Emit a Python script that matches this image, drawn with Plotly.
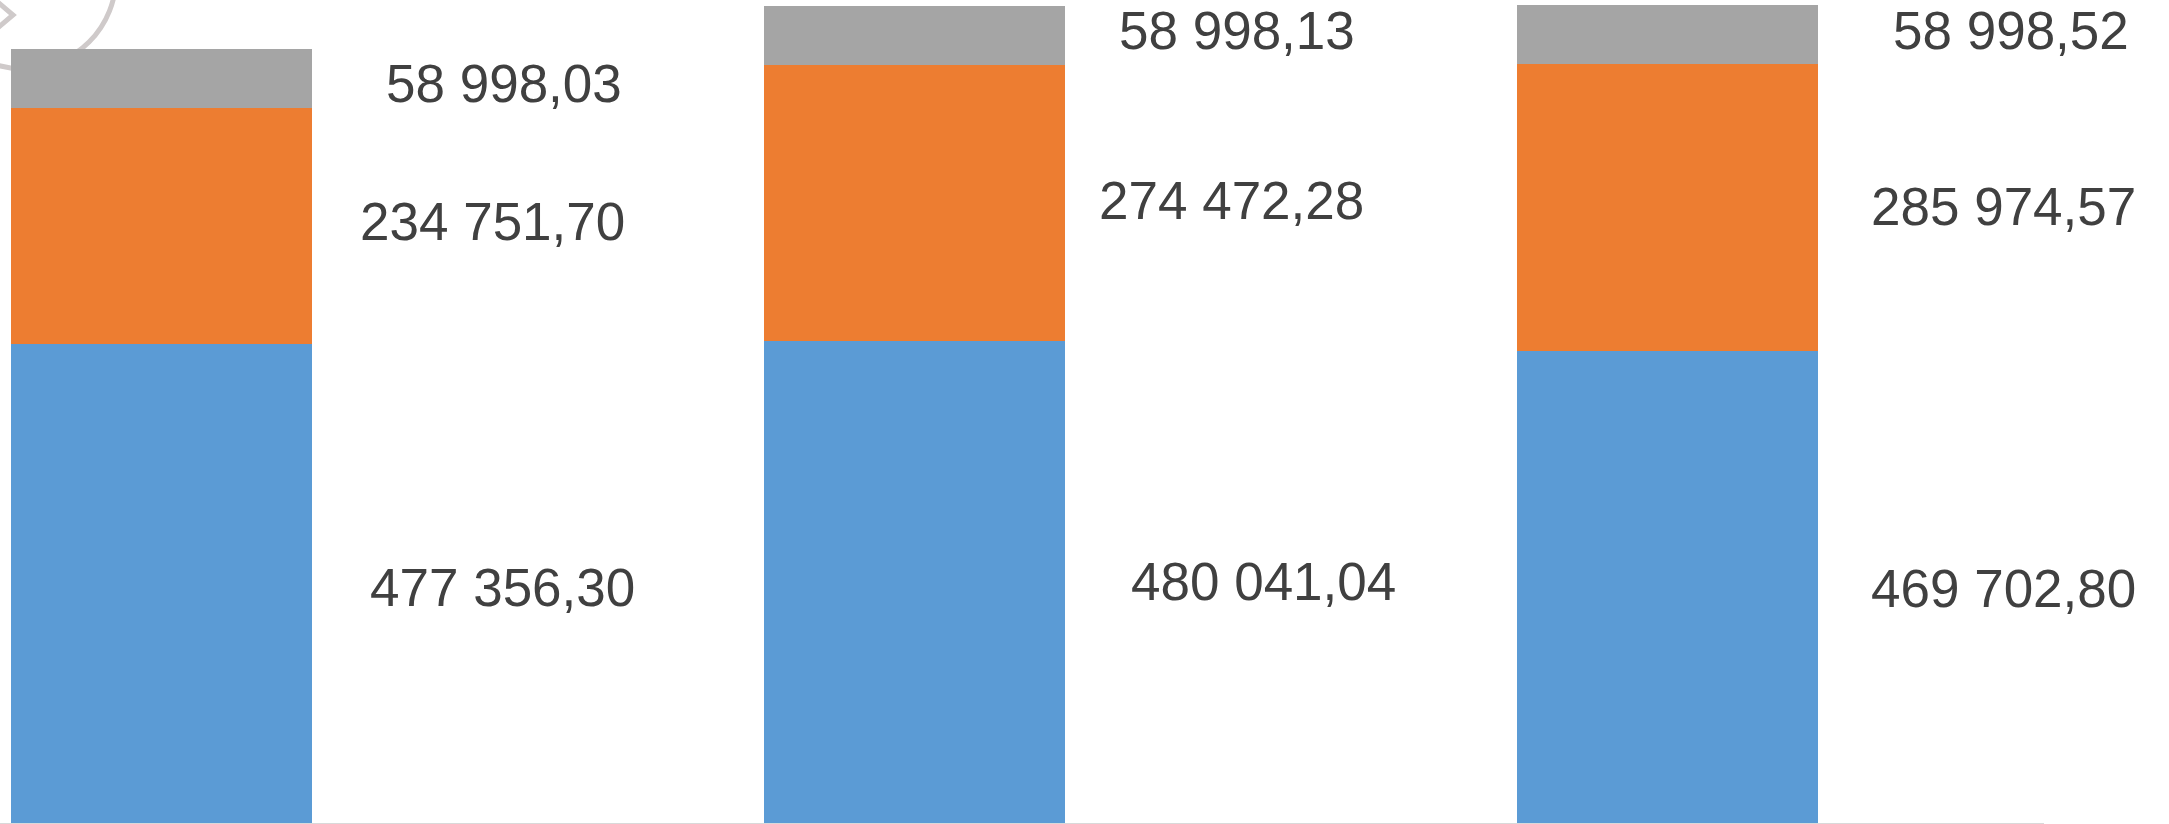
import plotly.graph_objects as go

# ---- data ----
categories = ["A", "B", "C"]
series_blue = [477356.30, 480041.04, 469702.80]
series_orange = [234751.70, 274472.28, 285974.57]
series_gray = [58998.03, 58998.13, 58998.52]

# ---- styles ----
COL_BLUE = "#5B9BD5"
COL_ORANGE = "#ED7D31"
COL_GRAY = "#A5A5A5"
TXT = "#404040"
FONT = "Liberation Sans, Arial, sans-serif"
FS = 53
LABEL_OFFSET = 0.45  # label x offset (category units) to the right of bar centre
# per-label pixel nudges [bar][segment] (segment: blue, orange, gray)
XNUDGE = [[2, -8, 4], [10, -22, -16], [-3, -3, 5]]
YNUDGE = [[-4, 4, -5], [1, 3, 5], [-1, 1, 4]]


def fmt(v):
    s = f"{v:,.2f}"
    return s.replace(",", " ").replace(".", ",")


xs = list(range(len(categories)))

fig = go.Figure()
for vals, col in ((series_blue, COL_BLUE), (series_orange, COL_ORANGE), (series_gray, COL_GRAY)):
    fig.add_trace(go.Bar(x=xs, y=vals, marker=dict(color=col, line=dict(width=0)),
                         hoverinfo="skip", showlegend=False))

annotations = []
for i in xs:
    base = 0.0
    for k, vals in enumerate((series_blue, series_orange, series_gray)):
        v = vals[i]
        annotations.append(dict(
            x=i + LABEL_OFFSET, y=base + v / 2, xref="x", yref="y",
            text=fmt(v), showarrow=False, xanchor="center", yanchor="middle",
            xshift=XNUDGE[i][k], yshift=YNUDGE[i][k],
            font=dict(family=FONT, size=FS, color=TXT)))
        base += v

shapes = [
    # decorative partial circular icon at top-left (behind bars)
    dict(type="circle", xref="paper", yref="paper", xsizemode="pixel", ysizemode="pixel",
         xanchor=0, yanchor=1, x0=24 - 92, x1=24 + 92, y0=23 - 92, y1=23 + 92,
         line=dict(color="#CFCACA", width=5), fillcolor="rgba(0,0,0,0)", layer="below"),
    dict(type="path", xref="paper", yref="paper", xsizemode="pixel", ysizemode="pixel",
         xanchor=0, yanchor=1, path="M -6,1 L 13,-15 L -6,-31",
         line=dict(color="#CFCACA", width=5), layer="below"),
]

fig.update_layout(
    width=2169, height=824,
    margin=dict(l=0, r=125, t=0, b=1, pad=0),
    paper_bgcolor="white", plot_bgcolor="white",
    barmode="stack", bargap=0.6,
    annotations=annotations, shapes=shapes,
    xaxis=dict(range=[-0.2145, 2.5], showticklabels=False, ticks="", showgrid=False,
               zeroline=False, showline=True, linecolor="#D9D9D9", linewidth=2,
               fixedrange=True),
    yaxis=dict(range=[0, 819700], showticklabels=False, ticks="", showgrid=False,
               zeroline=False, showline=False, fixedrange=True),
    showlegend=False,
)

fig.write_html(
    "out.html",
    config={"displayModeBar": False},
    post_script="document.body.style.margin='0';document.body.style.overflow='hidden';",
)
